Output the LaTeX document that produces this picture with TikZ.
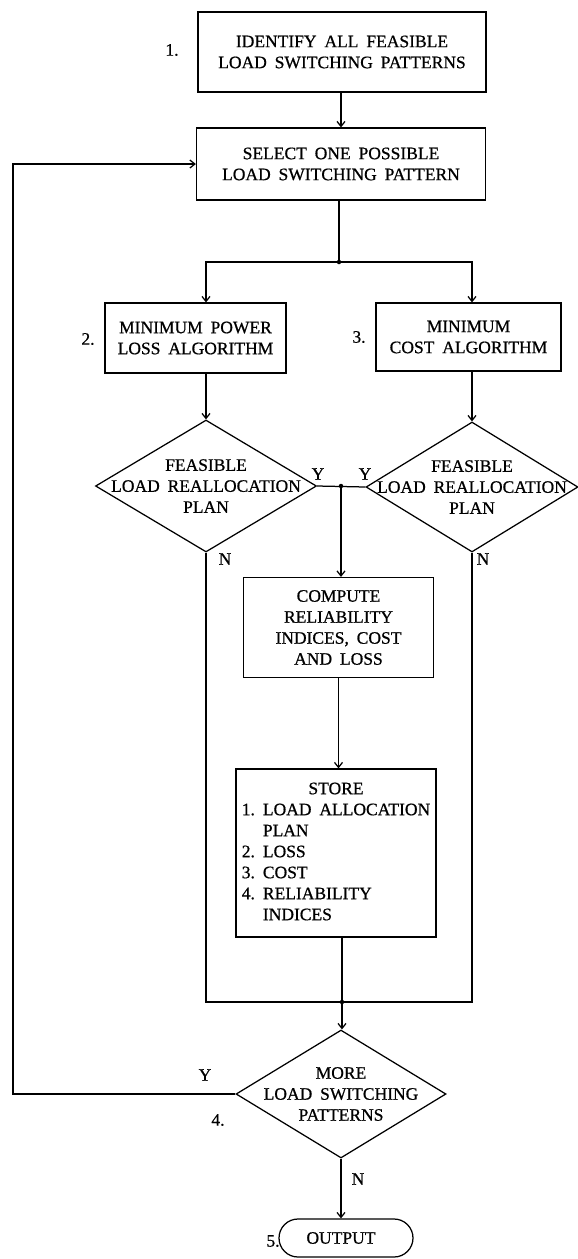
\documentclass[tikz,border=0pt]{standalone}
\usepackage{fontspec}
\setmainfont{Liberation Serif}[FakeBold=0.7]
\usetikzlibrary{arrows.meta,shapes.geometric,shapes.misc}
\newcommand\flowfont{\fontsize{17.5}{21}\selectfont\spaceskip=0.45em plus 0.1em\relax}
\begin{document}
\begin{tikzpicture}[x=1pt,y=-1pt,
  line width=1.25pt,
  txt/.style={font=\flowfont, align=center, inner sep=0pt},
  box/.style={txt, draw, rectangle},
  dia/.style={draw, diamond, inner sep=0pt},
  term/.style={txt, draw, rounded rectangle},
  lbl/.style={font=\flowfont, inner sep=0pt},
  arr/.style={-{Straight Barb[length=5pt,width=8pt]}},
  dot/.style={circle, fill, inner sep=0pt, minimum size=4.5pt}
]
\fill[white] (0,0) rectangle (578,1259);
\useasboundingbox (0,0) rectangle (578,1259);

% process boxes
\node[box, minimum width=288pt, minimum height=80pt] (box1) at (342,52)
  {IDENTIFY ALL FEASIBLE\\LOAD SWITCHING PATTERNS};
\node[box, minimum width=289pt, minimum height=72pt] (box2) at (341,164)
  {SELECT ONE POSSIBLE\\LOAD SWITCHING PATTERN};
\node[box, minimum width=181pt, minimum height=70pt] (box2a) at (195.5,338)
  {MINIMUM POWER\\LOSS ALGORITHM};
\node[box, minimum width=185pt, minimum height=68pt] (box3) at (468.5,337)
  {MINIMUM\\COST ALGORITHM};
\node[box, minimum width=190pt, minimum height=100pt] (comp) at (338.5,627.5)
  {COMPUTE\\RELIABILITY\\INDICES, COST\\AND LOSS};
\node[box, minimum width=200pt, minimum height=168pt] (store) at (336,853)
  {\begin{tabular}{@{}l@{\hspace{8pt}}l@{}}
   \multicolumn{2}{c}{STORE}\\
   1. & LOAD ALLOCATION\\
      & PLAN\\
   2. & LOSS\\
   3. & COST\\
   4. & RELIABILITY\\
      & INDICES
   \end{tabular}};

% decisions
\node[dia, minimum width=221pt, minimum height=132pt] (d1) at (206,486) {};
\node[txt] (d1t) at (d1) {FEASIBLE\\LOAD REALLOCATION\\PLAN};
\node[dia, minimum width=212pt, minimum height=130pt] (d2) at (472,487) {};
\node[txt] (d2t) at (d2) {FEASIBLE\\LOAD REALLOCATION\\PLAN};
\node[dia, minimum width=210pt, minimum height=128pt] (d3) at (341,1094) {};
\node[txt] (d3t) at (d3) {MORE\\LOAD SWITCHING\\PATTERNS};

% terminal
\node[term, minimum width=134pt, minimum height=38pt] (out) at (346,1238)
  {\hspace*{-10pt}OUTPUT};

% step numbers
\node[lbl] (n1) at (172,50) {1.};
\node[lbl] (n2) at (88,339) {2.};
\node[lbl] (n3) at (359,337) {3.};
\node[lbl] (n4) at (218,1120) {4.};
\node[lbl] (n5) at (273,1241) {5.};

% branch labels
\node[lbl] (y1) at (318,474) {Y};
\node[lbl] (y2) at (365,474) {Y};
\node[lbl] (nn1) at (225,559) {N};
\node[lbl] (nn2) at (483,559) {N};
\node[lbl] (y3) at (205,1075) {Y};
\node[lbl] (nn3) at (358,1179) {N};

% junction points
\coordinate (fork) at (339,262);
\coordinate (yj) at (341,486);
\coordinate (merge) at (342,1002);
\coordinate (loop) at (13,1094);

% connectors
\draw[arr] (box1.south -| box2) -- (box2.north);
\draw (box2.south -| fork) -- (fork);
\draw[arr] (fork) -| (d1 |- box2a.north);
\draw[arr] (fork) -| (d2 |- box3.north);
\draw[arr] (d1 |- box2a.south) -- (d1.north);
\draw[arr] (d2 |- box3.south) -- (d2.north);
\draw (d1.east) -- (d2.west);
\draw[arr] (yj) -- (yj |- comp.north);
\draw[arr] (comp.south) -- (comp.south |- store.north);
\draw (d1.south) |- (merge);
\draw (d2.south) |- (merge);
\draw (merge |- store.south) -- (merge);
\draw[arr] (merge) -- (merge |- d3.north);
\draw[arr] (d3.west) -- (loop) |- (box2.west);
\draw[arr] (d3.south) -- (d3.south |- out.north);

\node[dot] (fdot) at (fork) {};
\node[dot] (ydot) at (yj) {};
\node[dot] (mdot) at (merge) {};
\end{tikzpicture}
\end{document}
